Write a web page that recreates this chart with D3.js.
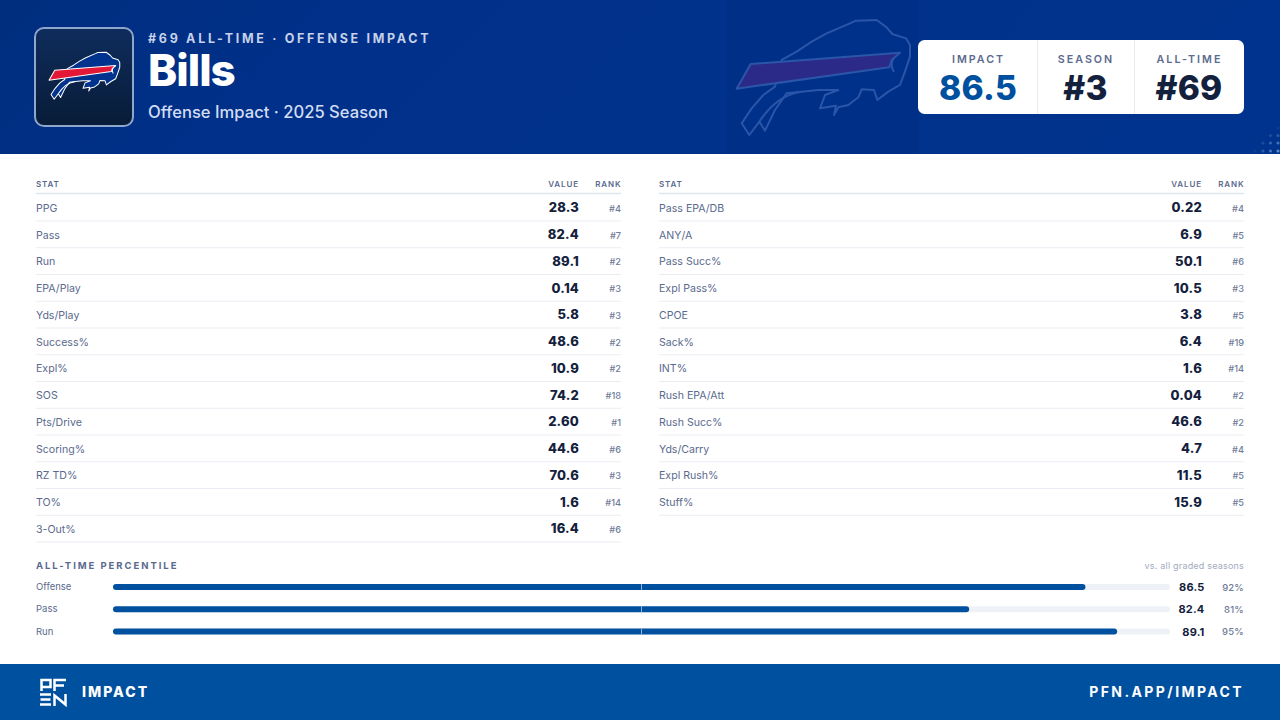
<!DOCTYPE html>
<html><head><meta charset="utf-8"><script src="https://cdn.jsdelivr.net/npm/d3@7/dist/d3.min.js"></script>
<style>html,body{margin:0;padding:0;background:#fff}svg{display:block}text{font-family:Inter,sans-serif}</style></head>
<body><svg id="c" width="1280" height="720"></svg>
<script>
const leftStats=["PPG","Pass","Run","EPA/Play","Yds/Play","Success%","Expl%","SOS","Pts/Drive","Scoring%","RZ TD%","TO%","3-Out%"];
const leftValues=["28.3","82.4","89.1","0.14","5.8","48.6","10.9","74.2","2.60","44.6","70.6","1.6","16.4"];
const leftRanks=[4,7,2,3,3,2,2,18,1,6,3,14,6];
const rightStats=["Pass EPA/DB","ANY/A","Pass Succ%","Expl Pass%","CPOE","Sack%","INT%","Rush EPA/Att","Rush Succ%","Yds/Carry","Expl Rush%","Stuff%"];
const rightValues=["0.22","6.9","50.1","10.5","3.8","6.4","1.6","0.04","46.6","4.7","11.5","15.9"];
const rightRanks=[4,5,6,3,5,19,14,2,2,4,5,5];
const barLabels=["Offense","Pass","Run"];
const barGrades=[86.5,82.4,89.1];
const barPercentiles=[92,81,95];
const cardLabels=["IMPACT","SEASON","ALL-TIME"];
const cardValues=["86.5","#3","#69"];

const svg=d3.select("#c"),defs=svg.append("defs");
const C={royal:"#00338d",blue:"#0050a0",ink:"#14213d",muted:"#5a6a8e",line:"#e9edf3",head:"#dfe5f0",track:"#eef2f7"};
function T(g,x,y,s,o={}){return g.append("text").attr("x",x).attr("y",y).text(s)
 .attr("font-size",o.size).attr("font-weight",o.w||400).attr("fill",o.c).attr("text-anchor",o.a||"start")
 .attr("letter-spacing",o.ls||0);}

// header
const hg=defs.append("linearGradient").attr("id","hg").attr("x1",0).attr("y1",0).attr("x2",1).attr("y2",0.12);
hg.append("stop").attr("offset",0).attr("stop-color","#002e7e");
hg.append("stop").attr("offset",.3).attr("stop-color","#00308a");
hg.append("stop").attr("offset",1).attr("stop-color",C.royal);
svg.append("rect").attr("width",1280).attr("height",154).attr("fill","url(#hg)");
svg.append("rect").attr("x",727).attr("width",191).attr("height",154).attr("fill","#002f86").attr("opacity",.75);

const bodyPath="M135 230L155 150L200 125L245 95L290 70L365 38L378 32L440 30L470 52L487 72L528 85L540 105L540 140L525 185L510 225L475 245L442 270L432 240L395 238L385 262L355 285L325 292L312 315L318 287L270 295L285 255L325 240L265 240L215 245L170 250L135 300L105 362L88 335L58 375L35 340L65 295L100 255Z";
const legPath="M215 245Q140 255 88 335";
const barPath="M20 236L62 162L510 128L485 150L478 172Z";
const curlPath="M510 128Q472 150 492 186";
function logo(g,tr,o){const l=g.append("g").attr("transform",tr).attr("stroke",o.stroke).attr("stroke-width",o.sw).attr("stroke-linejoin","round");
 l.append("path").attr("d",bodyPath).attr("fill",o.body);
 l.append("path").attr("d",legPath).attr("fill","none");
 l.append("path").attr("d",curlPath).attr("fill","none");
 l.append("path").attr("d",barPath).attr("fill",o.bar);}
logo(svg,"translate(730,10) scale(.3333)",{body:"#00318a",stroke:"#2a55a8",sw:6,bar:"#2b2a88"});

// dots
const dotX=[1255,1263,1270.5,1278],dotY=[128,135.5,143,151];
dotY.forEach(y=>dotX.forEach(x=>{const d=Math.hypot(1285-x,158-y);if(d<31)svg.append("circle").attr("cx",x).attr("cy",y).attr("r",1.6).attr("fill","#9cc4ee").attr("opacity",Math.min(.75,.85*(1-d/34)));}));

// tile
const tg=defs.append("linearGradient").attr("id","tg").attr("x1",0).attr("y1",0).attr("x2",0).attr("y2",1);
tg.append("stop").attr("offset",0).attr("stop-color","#0e2c5c");tg.append("stop").attr("offset",1).attr("stop-color","#081c38");
svg.append("rect").attr("x",35).attr("y",28).attr("width",98).attr("height",98).attr("rx",9).attr("fill","url(#tg)").attr("stroke","#8fa6cc").attr("stroke-width",2);
logo(svg,"translate(46.3,48.2) scale(.136)",{body:"#00338d",stroke:"#fff",sw:7.5,bar:"#e31837"});

T(svg,148,43,"#69 ALL-TIME · OFFENSE IMPACT",{size:12.5,w:700,c:"#c6d2ea",ls:2.7});
T(svg,148,86,"Bills",{size:44,w:800,c:"#fff",ls:-1});
T(svg,148,118,"Offense Impact · 2025 Season",{size:16.6,w:500,c:"#d3ddf2"});

// card
svg.append("rect").attr("x",918).attr("y",40).attr("width",326).attr("height",74).attr("rx",6.5).attr("fill","#fff");
const cardX=[978,1085.5,1189],cardCol=[C.blue,C.ink,C.ink];
[1037.5,1134.5].forEach(x=>svg.append("line").attr("x1",x).attr("x2",x).attr("y1",40).attr("y2",114).attr("stroke","#e6eaf1"));
cardLabels.forEach((s,i)=>{T(svg,cardX[i]+.5,63,s,{size:10.7,w:600,c:C.muted,a:"middle",ls:2});
 T(svg,cardX[i],100,cardValues[i],{size:33.5,w:800,c:cardCol[i],a:"middle",ls:.3});});

// tables
const y=d3.scaleLinear().domain([0,1]).range([207.8,234.55]);
function table(x0,x1,stats,vals,ranks){const g=svg.append("g");
 T(g,x0,187,"STAT",{size:8,w:600,c:C.muted,ls:.9});
 T(g,x1-42,187,"VALUE",{size:8,w:600,c:C.muted,a:"end",ls:.9});
 T(g,x1+.5,187,"RANK",{size:8,w:600,c:C.muted,a:"end",ls:.9});
 g.append("line").attr("x1",x0).attr("x2",x1).attr("y1",193.5).attr("y2",193.5).attr("stroke",C.head).attr("stroke-width",1.5);
 stats.forEach((s,i)=>{const c=y(i);
  T(g,x0,c+4,s,{size:10.6,w:400,c:C.muted});
  T(g,x1-42,c+4.5,vals[i],{size:13,w:800,c:C.ink,a:"end",ls:.2});
  T(g,x1,c+4,"#"+ranks[i],{size:9.2,w:500,c:"#6f7c99",a:"end"});
  g.append("line").attr("x1",x0).attr("x2",x1).attr("y1",c+13.2).attr("y2",c+13.2).attr("stroke",C.line);});}
table(36,621,leftStats,leftValues,leftRanks);
table(659,1244,rightStats,rightValues,rightRanks);

// percentile
T(svg,36,569,"ALL-TIME PERCENTILE",{size:9.5,w:700,c:C.muted,ls:1.95});
T(svg,1244,569,"vs. all graded seasons",{size:9,w:400,c:"#a2acc0",a:"end",ls:.2});
const px=d3.scaleLinear().domain([0,100]).range([113,1170]);
const by=d3.scalePoint().domain(barLabels).range([587,631.5]);
barLabels.forEach((s,i)=>{const c=by(s),h=6;
 T(svg,36,c+3.2,s,{size:9.5,w:400,c:C.muted});
 svg.append("rect").attr("x",px(0)).attr("y",c-h/2).attr("width",px(100)-px(0)).attr("height",h).attr("rx",3).attr("fill",C.track);
 svg.append("rect").attr("x",px(0)).attr("y",c-h/2).attr("width",px(barPercentiles[i])-px(0)).attr("height",h).attr("rx",3).attr("fill",C.blue);
 svg.append("line").attr("x1",px(50)).attr("x2",px(50)).attr("y1",c-h/2).attr("y2",c+h/2).attr("stroke","#8fb0d8").attr("stroke-width",1);
 T(svg,1204.5,c+4,barGrades[i].toFixed(1),{size:11,w:700,c:C.ink,a:"end",ls:.2});
 T(svg,1244,c+3.5,barPercentiles[i]+"%",{size:9.5,w:500,c:"#6f7c99",a:"end",ls:.2});});

// footer
svg.append("rect").attr("y",664).attr("width",1280).attr("height",56).attr("fill",C.blue);
const m=svg.append("g").attr("fill","none").attr("stroke","#fff").attr("stroke-width",2.5);
m.append("path").attr("d","M41.5 691V680H50.5V687H41.5M54.5 691V680H66M54.5 685.5H64");
m.append("path").attr("d","M40 694.5H51M40.5 699.5H50.5M40 704.5H51M54.5 706V695.5L65.5 704.5V694");
T(svg,82,697,"IMPACT",{size:14,w:800,c:"#fff",ls:2});
T(svg,1244,697,"PFN.APP/IMPACT",{size:14,w:700,c:"#fff",a:"end",ls:2.4});
</script></body></html>
